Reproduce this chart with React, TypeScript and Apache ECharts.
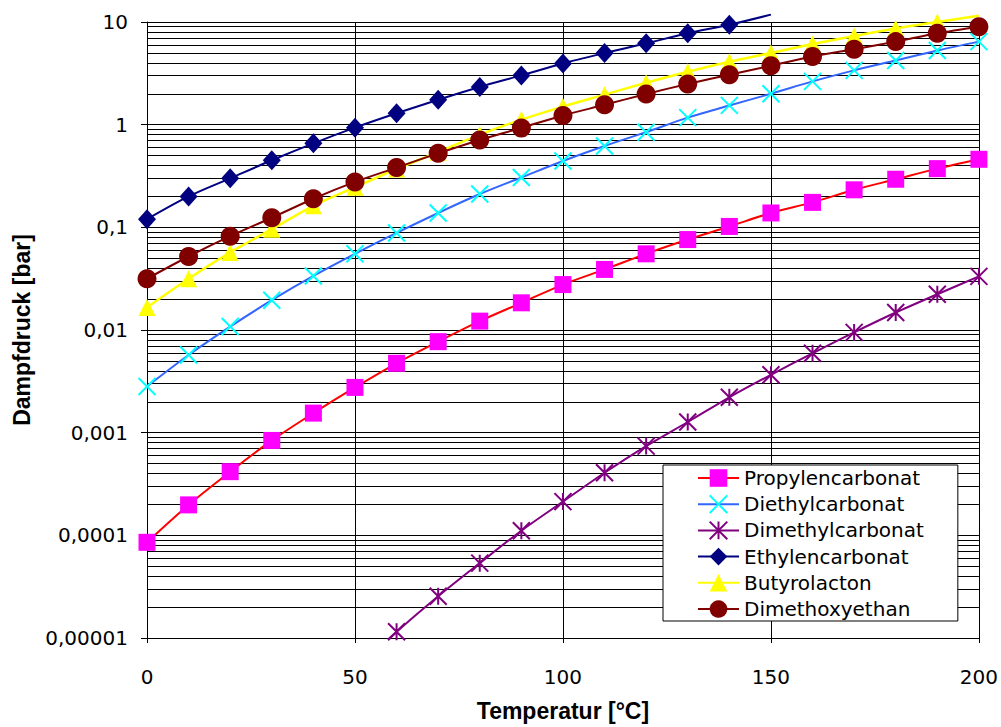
import React, { useEffect, useRef } from "react";
import * as echarts from "echarts";

// ---- data ----
const tempsFull = [0, 10, 20, 30, 40, 50, 60, 70, 80, 90, 100, 110, 120, 130, 140, 150, 160, 170, 180, 190, 200];
const tempsEthylen = [0, 10, 20, 30, 40, 50, 60, 70, 80, 90, 100, 110, 120, 130, 140, 150];
const tempsDimethyl = [50, 60, 70, 80, 90, 100, 110, 120, 130, 140, 150, 160, 170, 180, 190, 200];

const propylencarbonat = [8.55e-5, 1.98e-4, 4.17e-4, 8.4e-4, 1.55e-3, 2.76e-3, 4.74e-3, 7.7e-3, 0.0122, 0.0184, 0.0277, 0.0389, 0.0552, 0.076, 0.102, 0.138, 0.175, 0.232, 0.294, 0.373, 0.46];
const diethylcarbonat = [0.00282, 0.00571, 0.0108, 0.0195, 0.0336, 0.0552, 0.0882, 0.138, 0.211, 0.306, 0.443, 0.62, 0.845, 1.17, 1.54, 2.0, 2.64, 3.38, 4.22, 5.27, 6.44];
const dimethylcarbonat = [4.9e-6, 1.15e-5, 2.55e-5, 5.36e-5, 1.11e-4, 2.13e-4, 4.07e-4, 7.4e-4, 1.27e-3, 2.21e-3, 3.66e-3, 5.93e-3, 9.48e-3, 0.0148, 0.0223, 0.0333];
const ethylencarbonat = [0.12, 0.2, 0.3, 0.45, 0.658, 0.935, 1.29, 1.75, 2.33, 3.02, 3.95, 4.98, 6.2, 7.76, 9.4, 11.8];
const butyrolacton = [0.0166, 0.0316, 0.057, 0.096, 0.162, 0.246, 0.37, 0.54, 0.8, 1.12, 1.5, 1.96, 2.56, 3.28, 4.1, 5.0, 6.1, 7.3, 8.65, 10.0, 11.5];
const dimethoxyethan = [0.0316, 0.052, 0.082, 0.124, 0.19, 0.277, 0.382, 0.526, 0.71, 0.93, 1.23, 1.56, 1.99, 2.49, 3.06, 3.75, 4.61, 5.43, 6.44, 7.76, 9.0];

const seriesNames = ["Propylencarbonat", "Diethylcarbonat", "Dimethylcarbonat", "Ethylencarbonat", "Butyrolacton", "Dimethoxyethan"];

const yTickLabels = ["0,00001", "0,0001", "0,001", "0,01", "0,1", "1", "10"];
const yDecades = [1e-5, 1e-4, 1e-3, 1e-2, 1e-1, 1];
const minorMultipliers = [2, 3, 4, 5, 6, 7, 8, 9];

const Y_MIN = 1e-5;
const Y_MAX = 10;

const xPath = "path://M0,0 L18,18 M18,0 L0,18";
const starPath = "path://M0,0 L18,18 M18,0 L0,18 M9,0 L9,18";

function pairs(xs: number[], ys: number[]) {
  return ys.map((y, i) => {
    if (y > Y_MAX * 1.001) {
      return { value: [xs[i], y], symbol: "none" };
    }
    return { value: [xs[i], y] };
  });
}

export default function App() {
  const ref = useRef<HTMLDivElement>(null);

  useEffect(() => {
    if (!ref.current) return;
    const chart = echarts.init(ref.current, undefined, { renderer: "svg" });

    const minorValues: number[] = [];
    yDecades.forEach((d) => minorMultipliers.forEach((m) => minorValues.push(m * d)));

    const labelFont = "DejaVu Sans";
    const titleFont = "Liberation Sans";

    const option: any = {
      animation: false,
      backgroundColor: "#fff",
      grid: { left: 147, right: 22, top: 22, bottom: 86, containLabel: false },
      xAxis: {
        type: "value",
        min: 0,
        max: 200,
        interval: 50,
        name: "Temperatur [°C]",
        nameLocation: "middle",
        nameGap: 61,
        nameTextStyle: { fontFamily: titleFont, fontWeight: "bold", fontSize: 23, color: "#000" },
        axisLine: { show: true, lineStyle: { color: "#000", width: 1 } },
        axisTick: { show: true, length: 5, lineStyle: { color: "#000" } },
        axisLabel: { margin: 29, fontFamily: labelFont, fontSize: 20, color: "#000" },
        splitLine: { show: true, lineStyle: { color: "#000", width: 1 } },
      },
      yAxis: {
        type: "log",
        logBase: 10,
        min: Y_MIN,
        max: Y_MAX,
        splitNumber: 6,
        name: "Dampfdruck [bar]",
        nameLocation: "middle",
        nameGap: 114,
        nameTextStyle: { fontFamily: titleFont, fontWeight: "bold", fontSize: 23, color: "#000" },
        axisLine: { show: true, lineStyle: { color: "#000", width: 1 } },
        axisTick: { show: true, length: 6, lineStyle: { color: "#000" } },
        axisLabel: {
          margin: 19,
          fontFamily: labelFont,
          fontSize: 20,
          color: "#000",
          formatter: (v: number) => {
            const idx = Math.round(Math.log10(v)) + 5;
            return yTickLabels[idx] ?? "";
          },
        },
        splitLine: { show: true, lineStyle: { color: "#000", width: 1 } },
      },
      legend: {
        show: true,
        orient: "vertical",
        left: 663,
        top: 465,
        z: 10,
        data: seriesNames,
        itemWidth: 41,
        itemHeight: 22,
        itemGap: 6.2,
        padding: [3, 34, 2, 34],
        backgroundColor: "#fff",
        borderColor: "#000",
        borderWidth: 1,
        textStyle: { fontFamily: labelFont, fontSize: 20, color: "#000" },
      },
      series: [
        {
          name: "__minorGrid",
          type: "line",
          data: [],
          z: 1,
          silent: true,
          markLine: {
            z: 1,
            silent: true,
            symbol: "none",
            precision: 10,
            label: { show: false },
            lineStyle: { color: "#000", width: 1, type: "solid" },
            emphasis: { disabled: true },
            data: minorValues.map((v) => ({ yAxis: v })),
          },
        },
        {
          name: seriesNames[0],
          type: "line",
          smooth: 0.3,
          data: pairs(tempsFull, propylencarbonat),
          symbol: "rect",
          symbolSize: 17,
          lineStyle: { color: "#FF0000", width: 2 },
          itemStyle: { color: "#FF00FF" },
          z: 3,
        },
        {
          name: seriesNames[1],
          type: "line",
          smooth: 0.3,
          data: pairs(tempsFull, diethylcarbonat),
          symbol: xPath,
          symbolSize: 17,
          lineStyle: { color: "#3366FF", width: 2 },
          itemStyle: { color: "rgba(0,0,0,0)", borderColor: "#00FFFF", borderWidth: 2 },
          z: 3,
        },
        {
          name: seriesNames[2],
          type: "line",
          smooth: 0.3,
          clip: true,
          data: pairs(tempsDimethyl, dimethylcarbonat),
          symbol: starPath,
          symbolSize: 17,
          lineStyle: { color: "#800080", width: 2 },
          itemStyle: { color: "rgba(0,0,0,0)", borderColor: "#800080", borderWidth: 2 },
          z: 3,
        },
        {
          name: seriesNames[3],
          type: "line",
          smooth: 0.3,
          clip: false,
          data: pairs(tempsEthylen, ethylencarbonat),
          symbol: "diamond",
          symbolSize: [18, 20],
          lineStyle: { color: "#000080", width: 2 },
          itemStyle: { color: "#000080" },
          z: 3,
        },
        {
          name: seriesNames[4],
          type: "line",
          smooth: 0.3,
          clip: false,
          data: pairs(tempsFull, butyrolacton),
          symbol: "triangle",
          symbolSize: 17,
          lineStyle: { color: "#FFFF00", width: 2.5 },
          itemStyle: { color: "#FFFF00" },
          z: 3,
        },
        {
          name: seriesNames[5],
          type: "line",
          smooth: 0.3,
          data: pairs(tempsFull, dimethoxyethan),
          symbol: "circle",
          symbolSize: 19,
          lineStyle: { color: "#800000", width: 2 },
          itemStyle: { color: "#800000" },
          z: 3,
        },
      ],
    };

    chart.setOption(option);
    return () => {
      chart.dispose();
    };
  }, []);

  return (
    <div
      ref={ref}
      style={{ position: "absolute", left: 0, top: 0, width: 1001, height: 727, background: "#fff" }}
    />
  );
}
